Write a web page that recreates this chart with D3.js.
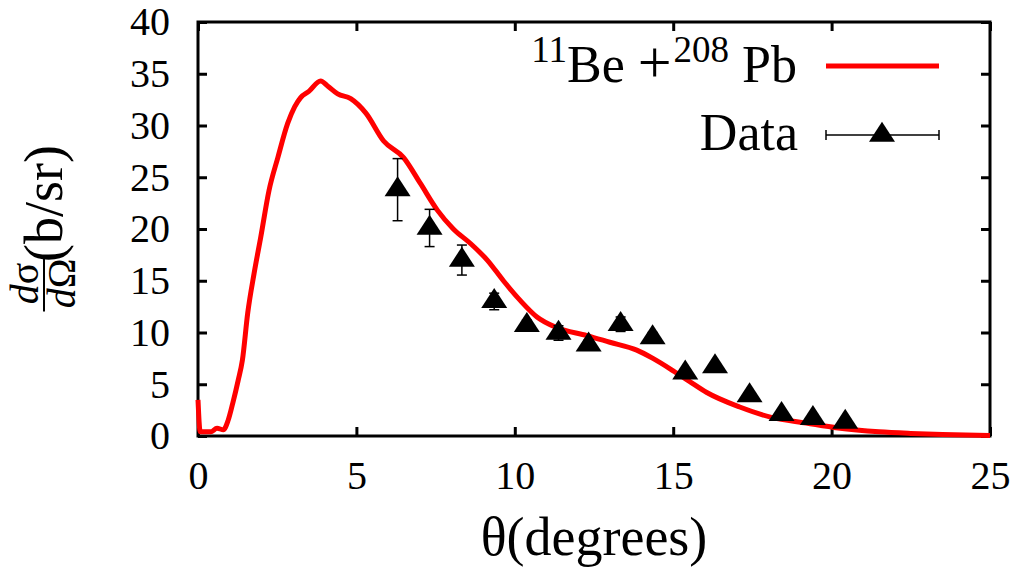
<!DOCTYPE html>
<html>
<head>
<meta charset="utf-8">
<script src="https://cdn.jsdelivr.net/npm/d3@7"></script>
<style>
  body { margin: 0; background: #fff; }
  svg { display: block; }
</style>
</head>
<body>
<div id="chart"></div>
<script>
// curva teórica 11Be + 208Pb
const curveTheta = [0.0, 0.07, 0.4, 0.6, 0.8, 0.95, 1.1, 1.27, 1.4, 1.57, 1.77, 1.98, 2.24, 2.52, 2.83, 3.05, 3.24, 3.5, 3.87, 4.1, 4.41, 4.82, 5.3, 5.86, 6.49, 7.02, 7.56, 8.06, 8.6, 9.13, 9.64, 10.17, 10.7, 11.3, 12.28, 13.0, 13.85, 14.36, 15.0, 15.5, 16.06, 17.1, 18.1, 19.2, 20.2, 21.5, 22.5, 23.5, 25.0];
const curveSigma = [3.5, 0.4, 0.4, 0.75, 0.6, 1.5, 3.2, 5.4, 7.3, 11.9, 15.7, 19.2, 23.7, 26.9, 30.2, 31.8, 32.7, 33.3, 34.3, 33.8, 33.06, 32.6, 31.2, 28.5, 26.9, 24.4, 21.8, 20.0, 18.6, 17.0, 15.0, 13.1, 11.5, 10.5, 9.7, 9.06, 8.3, 7.5, 6.3, 5.3, 4.2, 2.8, 1.8, 1.25, 0.77, 0.4, 0.25, 0.15, 0.05];

// datos experimentales
const dataTheta = [6.3, 7.31, 8.33, 9.35, 10.38, 11.38, 12.33, 13.34, 14.35, 15.38, 16.32, 17.41, 18.42, 19.41, 20.43];
const dataSigma = [23.8, 20.1, 17.0, 13.0, 10.7, 9.95, 8.8, 10.8, 9.5, 6.1, 6.7, 3.9, 2.1, 1.7, 1.35];
const dataErr = [3.0, 1.8, 1.45, 0.8, 0.5, 0.7, 0.5, 0.7, 0.5, 0.4, 0.4, 0.3, 0.3, 0.3, 0.3];

const xTicks = [0, 5, 10, 15, 20, 25];
const yTicks = [0, 5, 10, 15, 20, 25, 30, 35, 40];

const width = 1015, height = 571;
const margin = { left: 198, right: 25, top: 22, bottom: 135 };
const font = "Liberation Serif";

const svg = d3.select("#chart").append("svg")
    .attr("width", width)
    .attr("height", height)
    .attr("font-family", font);

const x = d3.scaleLinear().domain([0, 25]).range([margin.left, width - margin.right]);
const y = d3.scaleLinear().domain([0, 40]).range([height - margin.bottom, margin.top]);

const tickLen = 9;

// ejes con ticks hacia dentro
svg.append("g")
    .attr("transform", `translate(0,${y(0)})`)
    .call(d3.axisBottom(x).tickValues(xTicks).tickSize(-tickLen).tickPadding(tickLen + 16))
    .call(g => g.select(".domain").remove());

svg.append("g")
    .attr("transform", `translate(0,${y(40)})`)
    .call(d3.axisTop(x).tickValues(xTicks).tickSize(-tickLen).tickFormat(""))
    .call(g => g.select(".domain").remove());

svg.append("g")
    .attr("transform", `translate(${x(0)},0)`)
    .call(d3.axisLeft(y).tickValues(yTicks).tickSize(-tickLen).tickPadding(tickLen + 19))
    .call(g => g.select(".domain").remove());

svg.append("g")
    .attr("transform", `translate(${x(25)},0)`)
    .call(d3.axisRight(y).tickValues(yTicks).tickSize(-tickLen).tickFormat(""))
    .call(g => g.select(".domain").remove());

svg.selectAll(".tick line").attr("stroke", "#000").attr("stroke-width", 3);
svg.selectAll("g").attr("font-family", font);
svg.selectAll(".tick text")
    .attr("fill", "#000")
    .attr("font-family", font)
    .attr("font-size", 40);

// marco
svg.append("rect")
    .attr("x", x(0)).attr("y", y(40))
    .attr("width", x(25) - x(0)).attr("height", y(0) - y(40))
    .attr("fill", "none").attr("stroke", "#000").attr("stroke-width", 3);

// curva
const curveData = curveTheta.map((t, i) => ({ t: t, s: curveSigma[i] }));
svg.append("path")
    .datum(curveData)
    .attr("fill", "none")
    .attr("stroke", "#ff0000")
    .attr("stroke-width", 5)
    .attr("stroke-linejoin", "round")
    .attr("d", d3.line().x(d => x(d.t)).y(d => y(d.s)).curve(d3.curveMonotoneX));

// puntos con barras de error
const pts = dataTheta.map((t, i) => ({ t: t, s: dataSigma[i], e: dataErr[i] }));
const triW = 13, triH = 20;
const triPath = `M0,${-triH * 2 / 3}L${triW},${triH / 3}L${-triW},${triH / 3}Z`;

const pg = svg.append("g").selectAll("g").data(pts).join("g")
    .attr("transform", d => `translate(${x(d.t)},${y(d.s)})`);

pg.append("line")
    .attr("x1", 0).attr("x2", 0)
    .attr("y1", d => y(d.s + d.e) - y(d.s))
    .attr("y2", d => y(d.s - d.e) - y(d.s))
    .attr("stroke", "#000").attr("stroke-width", 1.5);
pg.selectAll("line.cap").data(d => [d.s + d.e, d.s - d.e].map(v => y(v) - y(d.s))).join("line")
    .attr("class", "cap")
    .attr("x1", -5).attr("x2", 5)
    .attr("y1", d => d).attr("y2", d => d)
    .attr("stroke", "#000").attr("stroke-width", 1.5);
pg.append("path").attr("d", triPath).attr("fill", "#000");

// leyenda
const legend = svg.append("g");
const lt = legend.append("text")
    .attr("x", 797).attr("y", 82)
    .attr("text-anchor", "end")
    .attr("font-family", font)
    .attr("font-size", 52);
lt.append("tspan").attr("dy", -20).attr("font-size", 37).text("11");
lt.append("tspan").attr("dy", 20).text("Be ");
lt.append("tspan").attr("font-size", 60).text("+");
lt.append("tspan").attr("dy", -20).attr("dx", 2).attr("font-size", 37).text("208");
lt.append("tspan").attr("dy", 20).text(" Pb");

legend.append("line")
    .attr("x1", 826).attr("x2", 939).attr("y1", 66).attr("y2", 66)
    .attr("stroke", "#ff0000").attr("stroke-width", 5);

legend.append("text")
    .attr("x", 798).attr("y", 150)
    .attr("text-anchor", "end")
    .attr("font-family", font)
    .attr("font-size", 52)
    .text("Data");

legend.append("line")
    .attr("x1", 826).attr("x2", 939).attr("y1", 135).attr("y2", 135)
    .attr("stroke", "#000").attr("stroke-width", 1.5);
[826, 939].forEach(cx => legend.append("line")
    .attr("x1", cx).attr("x2", cx).attr("y1", 130).attr("y2", 140)
    .attr("stroke", "#000").attr("stroke-width", 1.5));
legend.append("path")
    .attr("transform", "translate(882,135)")
    .attr("d", triPath).attr("fill", "#000");

// título eje x
svg.append("text")
    .attr("x", (x(0) + x(25)) / 2)
    .attr("y", 555)
    .attr("text-anchor", "middle")
    .attr("font-family", font)
    .attr("font-size", 54)
    .text("θ(degrees)");

// título eje y (fracción rotada)
const yl = svg.append("g").attr("transform", "rotate(-90)").attr("font-family", font);
const fracC = -283.5;
const num = yl.append("text")
    .attr("x", fracC).attr("y", 38)
    .attr("text-anchor", "middle")
    .attr("font-size", 40);
num.append("tspan").attr("font-style", "italic").text("d");
num.append("tspan").text("σ");
yl.append("line")
    .attr("x1", fracC - 28).attr("x2", fracC + 28)
    .attr("y1", 44).attr("y2", 44)
    .attr("stroke", "#000").attr("stroke-width", 2);
const den = yl.append("text")
    .attr("x", fracC).attr("y", 75)
    .attr("text-anchor", "middle")
    .attr("font-size", 40);
den.append("tspan").attr("font-style", "italic").text("d");
den.append("tspan").text("Ω");
yl.append("text")
    .attr("x", -262).attr("y", 62)
    .attr("font-size", 54)
    .text("(b/sr)");
</script>
</body>
</html>
